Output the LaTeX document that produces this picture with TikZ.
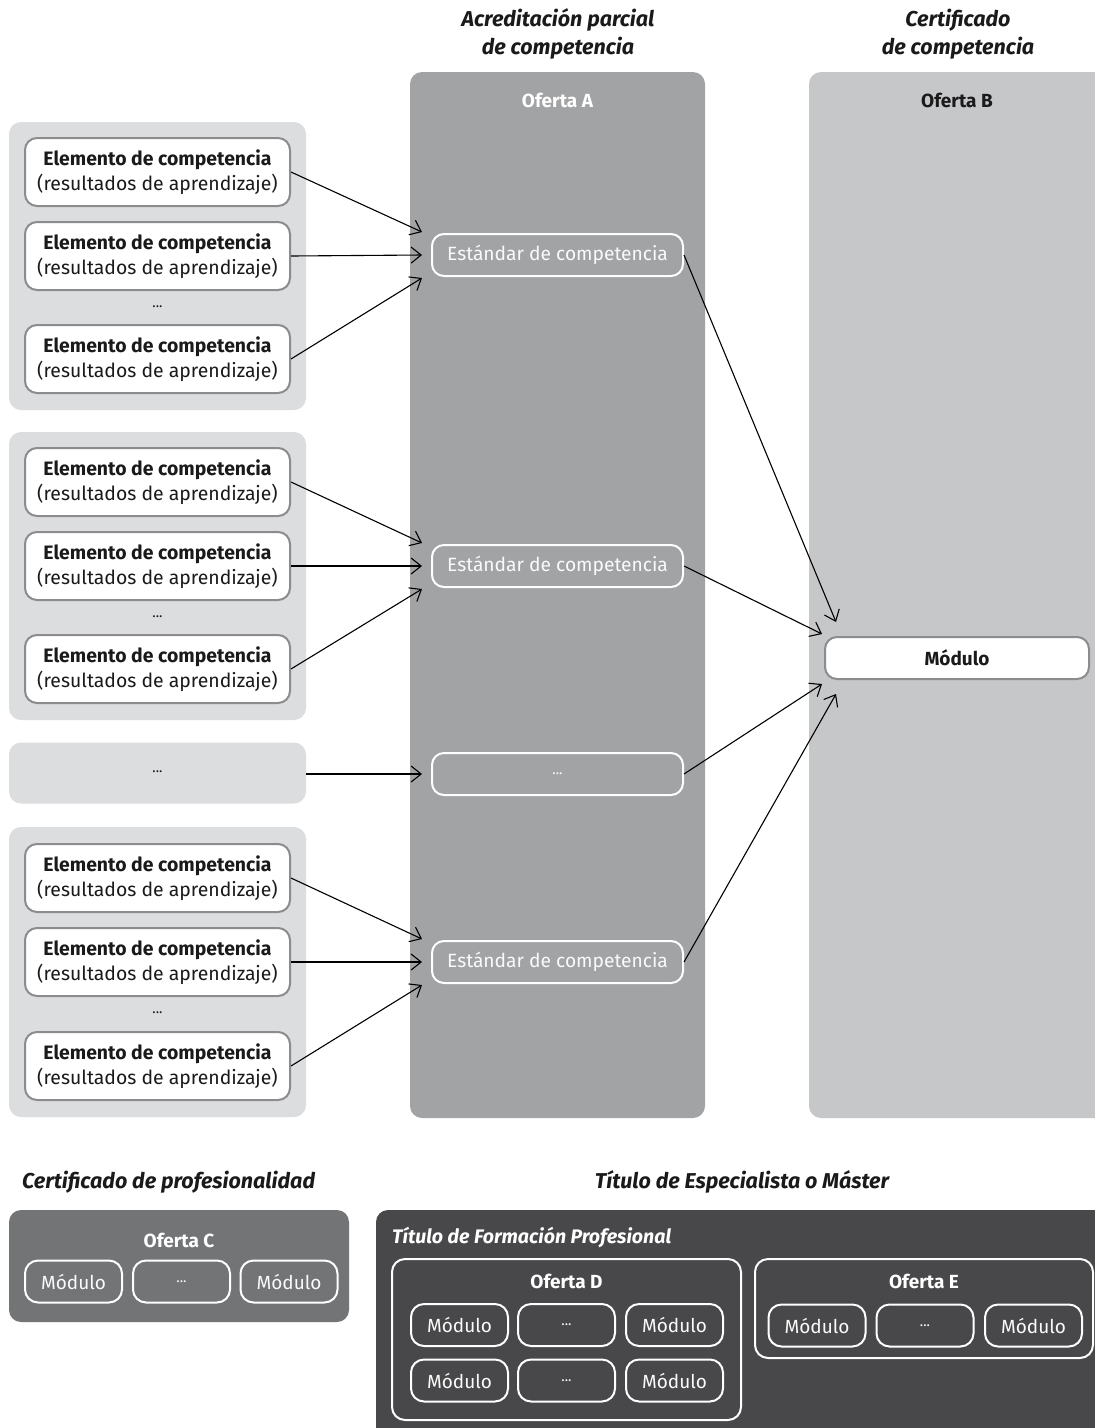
\documentclass[tikz,border=0pt]{standalone}
\usepackage{fontspec}
\setmainfont{Fira Sans}
\usetikzlibrary{arrows.meta,calc}

\definecolor{grpfill}{HTML}{DCDDDF}
\definecolor{cA}{HTML}{A2A3A5}
\definecolor{cB}{HTML}{C6C7C9}
\definecolor{cC}{HTML}{737476}
\definecolor{cDark}{HTML}{48484A}
\definecolor{edgegray}{HTML}{8C8C8E}
\definecolor{ink}{HTML}{1A1A1A}
\definecolor{softwhite}{HTML}{FAFAFA}

\newcommand\myfs[2]{\fontsize{#1}{#2}\selectfont}

\begin{document}
\begin{tikzpicture}[x=1pt,y=-1pt,
  panel/.style={rectangle, rounded corners=12pt, draw=none, inner sep=0pt},
  grp/.style={panel, fill=grpfill, minimum width=297pt},
  elem/.style={rectangle, rounded corners=12pt, draw=edgegray, line width=2pt,
    fill=white, minimum width=265pt, minimum height=68pt, inner sep=0pt,
    align=center, text=ink, font=\myfs{19.4}{25.5}},
  stdbox/.style={rectangle, rounded corners=12pt, draw=white, line width=2pt,
    minimum width=251pt, minimum height=42pt, inner sep=0pt,
    text=softwhite, font=\myfs{19.2}{22}},
  modw/.style={rectangle, rounded corners=13pt, draw=white, line width=2pt,
    minimum width=97pt, minimum height=42pt, inner sep=0pt,
    text=softwhite, font=\myfs{19}{22}},
  ofbox/.style={rectangle, rounded corners=13pt, draw=white, line width=2pt, inner sep=0pt},
  heading/.style={font=\myfs{21.5}{28}\bfseries\itshape, text=ink, align=center, inner sep=0pt},
  oflabel/.style={font=\myfs{19}{22}\bfseries, inner sep=0pt},
  dots/.style={font=\myfs{14}{16}, text=ink, inner sep=0pt},
  conn/.style={draw=black, line width=1.1pt,
    -{Straight Barb[length=10pt,width=16pt,line width=1.1pt]}}
]
\clip (0,0) rectangle (1095,1428);
\fill[white] (0,0) rectangle (1095,1428);

% headings of the two columns
\node[heading] (hA) at (558,34) {Acreditación parcial\\de competencia};
\node[heading] (hB) at (958,34) {Certificado\\de competencia};

% columns
\node[panel, fill=cA, minimum width=295pt, minimum height=1046pt] (ofA) at (557.5,595) {};
\node[panel, fill=cB, minimum width=301pt, minimum height=1046pt] (ofB) at (959.5,595) {};
\node[oflabel, text=white] (ofAt) at (557.5,100) {Oferta A};
\node[oflabel, text=ink] (ofBt) at (957,100) {Oferta B};

% standards inside Oferta A
\node[stdbox] (std1) at (557.5,255) {Estándar de competencia};
\node[stdbox] (std2) at (557.5,566) {Estándar de competencia};
\node[stdbox, font=\myfs{14}{16}] (std3) at (557.5,774) {...};
\node[stdbox] (std4) at (557.5,962) {Estándar de competencia};

% module inside Oferta B
\node[rectangle, rounded corners=12pt, draw=edgegray, line width=2pt, fill=white,
  minimum width=264pt, minimum height=42pt, inner sep=0pt,
  font=\myfs{19}{22}\bfseries, text=ink] (modB) at (957,658) {Módulo};

% left groups
\node[grp, minimum height=288pt] (g1) at (157.5,266) {};
\node[grp, minimum height=288pt] (g2) at (157.5,576) {};
\node[grp, minimum height=61pt] (g3) at (157.5,773) {};
\node[grp, minimum height=290pt] (g4) at (157.5,972) {};
\node[dots] (g3t) at (157.5,772) {...};

\foreach \g/\ya/\yb/\yc/\yd in {1/172/256/359/307, 2/482/566/669/617, 4/878/962/1066/1013}{
  \node[elem] (e\g a) at (157.5,\ya) {\textbf{Elemento de competencia}\\(resultados de aprendizaje)};
  \node[elem] (e\g b) at (157.5,\yb) {\textbf{Elemento de competencia}\\(resultados de aprendizaje)};
  \node[elem] (e\g c) at (157.5,\yc) {\textbf{Elemento de competencia}\\(resultados de aprendizaje)};
  \node[dots] (e\g d) at (157.5,\yd) {...};
  \draw[conn] (e\g a.east) -- ($(std\g.west)+(-9,-23)$);
  \draw[conn] (e\g b.east) -- ($(std\g.west)+(-9,0)$);
  \draw[conn] (e\g c.east) -- ($(std\g.west)+(-9,23)$);
}
\draw[conn] (std3.west -| g3.east) -- ($(std3.west)+(-9,0)$);

% standards to module
\draw[conn] (std1.east) -- ($(modB.north west)+(12,-14)$);
\draw[conn] (std2.east) -- ($(modB.north west)+(-2,-2)$);
\draw[conn] (std3.east) -- ($(modB.south west)+(-2,4)$);
\draw[conn] (std4.east) -- ($(modB.south west)+(12,14)$);

% bottom: certificado de profesionalidad
\node[heading, anchor=west] (hC) at (22,1182) {Certificado de profesionalidad};
\node[panel, fill=cC, minimum width=340pt, minimum height=112pt] (ofC) at (179,1266) {};
\node[oflabel, text=white] (ofCt) at (179,1240) {Oferta C};
\node[modw] (c1) at (73.5,1281.5) {Módulo};
\node[modw, font=\myfs{14}{16}] (c2) at (181.5,1281.5) {...};
\node[modw] (c3) at (289,1281.5) {Módulo};

% bottom: titulo de especialista o master
\node[heading] (hD) at (742,1182) {Título de Especialista o Máster};
\node[panel, fill=cDark, minimum width=739pt, minimum height=238pt] (tit) at (745.5,1329) {};
\node[font=\myfs{19.6}{22}\bfseries\itshape, text=white, anchor=west, inner sep=0pt] (titt) at (392,1237) {Título de Formación Profesional};

\node[ofbox, minimum width=349pt, minimum height=161pt] (ofD) at (566.5,1339.5) {};
\node[oflabel, text=white] (ofDt) at (566.5,1281) {Oferta D};
\node[modw] (d1) at (459.5,1325) {Módulo};
\node[modw, font=\myfs{14}{16}] (d2) at (566.5,1325) {...};
\node[modw] (d3) at (674.5,1325) {Módulo};
\node[modw] (d4) at (459.5,1380.5) {Módulo};
\node[modw, font=\myfs{14}{16}] (d5) at (566.5,1380.5) {...};
\node[modw] (d6) at (674.5,1380.5) {Módulo};

\node[ofbox, minimum width=338pt, minimum height=99pt] (ofE) at (924,1308.5) {};
\node[oflabel, text=white] (ofEt) at (924,1281) {Oferta E};
\node[modw] (f1) at (817,1325.5) {Módulo};
\node[modw, font=\myfs{14}{16}] (f2) at (925,1325.5) {...};
\node[modw] (f3) at (1033.5,1325.5) {Módulo};
\end{tikzpicture}
\end{document}
